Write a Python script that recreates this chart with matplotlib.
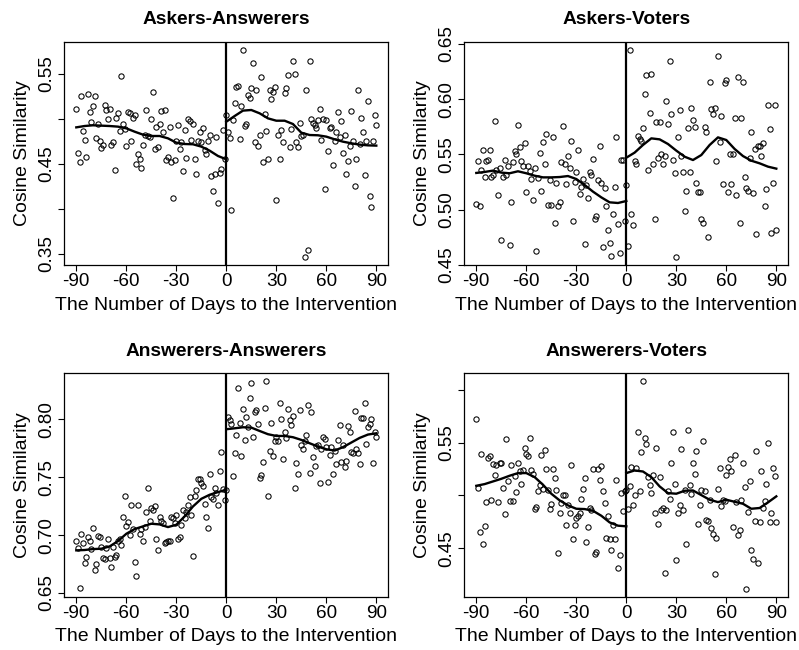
import matplotlib
matplotlib.use("Agg")
import matplotlib.pyplot as plt

plt.rcParams['font.family'] = ['Liberation Sans', 'DejaVu Sans']
plt.rcParams['axes.unicode_minus'] = False

days = list(range(-90, 91))

# Askers-Answerers
aa_vals = [
    0.511, 0.462, 0.452, 0.526, 0.487, 0.477, 0.458, 0.528, 0.508, 0.497,
    0.514, 0.526, 0.479, 0.494, 0.475, 0.468, 0.471, 0.515, 0.510, 0.500,
    0.511, 0.471, 0.474, 0.443, 0.501, 0.507, 0.487, 0.548, 0.494, 0.489,
    0.470, 0.508, 0.507, 0.476, 0.501, 0.504, 0.450, 0.461, 0.455, 0.446,
    0.471, 0.482, 0.510, 0.481, 0.480, 0.500, 0.530, 0.467, 0.491, 0.469,
    0.494, 0.509, 0.485, 0.510, 0.454, 0.458, 0.491, 0.452, 0.412, 0.454,
    0.475, 0.493, 0.467, 0.474, 0.442, 0.488, 0.457, 0.500, 0.498, 0.477,
    0.494, 0.455, 0.439, 0.476, 0.486, 0.474, 0.490, 0.465, 0.461, 0.475,
    0.482, 0.437, 0.420, 0.439, 0.480, 0.407, 0.440, 0.444, 0.488, 0.456,
    0.504,
    0.486, 0.479, 0.399, 0.499, 0.518, 0.535, 0.537, 0.478, 0.514, 0.577,
    0.492, 0.494, 0.527, 0.523, 0.534, 0.562, 0.474, 0.532, 0.470, 0.482,
    0.547, 0.452, 0.506, 0.487, 0.455, 0.532, 0.522, 0.530, 0.535, 0.410,
    0.482, 0.455, 0.488, 0.474, 0.529, 0.534, 0.549, 0.469, 0.489, 0.564,
    0.550, 0.474, 0.469, 0.496, 0.481, 0.482, 0.347, 0.532, 0.354, 0.564,
    0.500, 0.496, 0.493, 0.490, 0.499, 0.511, 0.477, 0.500, 0.422, 0.499,
    0.464, 0.490, 0.491, 0.449, 0.475, 0.485, 0.508, 0.480, 0.498, 0.462,
    0.482, 0.439, 0.453, 0.470, 0.509, 0.475, 0.426, 0.456, 0.532, 0.472,
    0.501, 0.486, 0.438, 0.475, 0.520, 0.414, 0.402, 0.476, 0.504, 0.493,
]

# Askers-Voters
av_vals = [
    0.505, 0.544, 0.503, 0.536, 0.554, 0.530, 0.544, 0.545, 0.554, 0.530,
    0.531, 0.580, 0.536, 0.513, 0.538, 0.473, 0.530, 0.545, 0.531, 0.540,
    0.468, 0.507, 0.543, 0.553, 0.550, 0.577, 0.557, 0.544, 0.540, 0.560,
    0.516, 0.540, 0.535, 0.528, 0.509, 0.538, 0.463, 0.529, 0.551, 0.517,
    0.561, 0.541, 0.569, 0.504, 0.527, 0.504, 0.566, 0.488, 0.524, 0.503,
    0.507, 0.543, 0.576, 0.541, 0.523, 0.549, 0.538, 0.562, 0.490, 0.525,
    0.534, 0.554, 0.514, 0.521, 0.528, 0.469, 0.522, 0.511, 0.534, 0.531,
    0.546, 0.492, 0.494, 0.527, 0.558, 0.524, 0.466, 0.520, 0.503, 0.482,
    0.470, 0.458, 0.496, 0.521, 0.566, 0.487, 0.461, 0.545, 0.545, 0.490,
    0.522,
    0.467, 0.645, 0.496, 0.486, 0.544, 0.541, 0.567, 0.564, 0.562, 0.574,
    0.605, 0.622, 0.536, 0.588, 0.623, 0.541, 0.492, 0.579, 0.547, 0.579,
    0.550, 0.541, 0.549, 0.598, 0.578, 0.635, 0.587, 0.545, 0.533, 0.457,
    0.566, 0.590, 0.549, 0.534, 0.499, 0.517, 0.574, 0.534, 0.592, 0.581,
    0.575, 0.524, 0.516, 0.516, 0.492, 0.488, 0.575, 0.570, 0.475, 0.616,
    0.591, 0.587, 0.592, 0.544, 0.639, 0.561, 0.585, 0.523, 0.615, 0.617,
    0.516, 0.550, 0.523, 0.550, 0.583, 0.513, 0.620, 0.488, 0.583, 0.616,
    0.530, 0.520, 0.517, 0.547, 0.570, 0.515, 0.555, 0.478, 0.558, 0.558,
    0.549, 0.560, 0.503, 0.519, 0.595, 0.573, 0.479, 0.524, 0.595, 0.482,
]

# Answerers-Answerers
nn_vals = [
    0.695, 0.689, 0.654, 0.701, 0.693, 0.676, 0.681, 0.698, 0.695, 0.688,
    0.706, 0.670, 0.675, 0.699, 0.698, 0.690, 0.680, 0.679, 0.689, 0.697,
    0.680, 0.672, 0.690, 0.681, 0.683, 0.695, 0.697, 0.691, 0.716, 0.734,
    0.708, 0.711, 0.700, 0.726, 0.705, 0.677, 0.665, 0.726, 0.701, 0.705,
    0.695, 0.707, 0.720, 0.741, 0.712, 0.723, 0.722, 0.725, 0.697, 0.687,
    0.716, 0.712, 0.710, 0.693, 0.694, 0.695, 0.695, 0.716, 0.715, 0.710,
    0.717, 0.697, 0.698, 0.709, 0.722, 0.715, 0.720, 0.726, 0.733, 0.717,
    0.682, 0.734, 0.739, 0.748, 0.748, 0.745, 0.742, 0.727, 0.716, 0.706,
    0.753, 0.733, 0.731, 0.741, 0.736, 0.726, 0.755, 0.772, 0.740, 0.730,
    0.739,
    0.802, 0.799, 0.796, 0.751, 0.771, 0.786, 0.827, 0.797, 0.768, 0.809,
    0.782, 0.802, 0.793, 0.818, 0.831, 0.785, 0.806, 0.808, 0.796, 0.749,
    0.752, 0.763, 0.810, 0.833, 0.734, 0.773, 0.797, 0.768, 0.781, 0.785,
    0.781, 0.814, 0.800, 0.766, 0.789, 0.784, 0.809, 0.799, 0.795, 0.803,
    0.741, 0.762, 0.753, 0.808, 0.778, 0.774, 0.781, 0.786, 0.812, 0.754,
    0.806, 0.767, 0.760, 0.777, 0.778, 0.745, 0.774, 0.785, 0.783, 0.776,
    0.746, 0.769, 0.776, 0.753, 0.773, 0.761, 0.782, 0.795, 0.763, 0.778,
    0.759, 0.764, 0.794, 0.789, 0.772, 0.771, 0.807, 0.774, 0.771, 0.761,
    0.801, 0.801, 0.814, 0.779, 0.793, 0.796, 0.800, 0.762, 0.789, 0.785,
]

# Answerers-Voters
nv_vals = [
    0.572, 0.507, 0.465, 0.539, 0.454, 0.471, 0.494, 0.535, 0.537, 0.496,
    0.530, 0.519, 0.529, 0.494, 0.531, 0.531, 0.507, 0.482, 0.553, 0.514,
    0.495, 0.529, 0.495, 0.518, 0.503, 0.531, 0.523, 0.511, 0.524, 0.545,
    0.539, 0.537, 0.554, 0.524, 0.520, 0.487, 0.489, 0.504, 0.510, 0.538,
    0.506, 0.543, 0.525, 0.505, 0.487, 0.492, 0.525, 0.516, 0.505, 0.446,
    0.483, 0.493, 0.500, 0.500, 0.472, 0.491, 0.483, 0.529, 0.459, 0.472,
    0.479, 0.481, 0.483, 0.497, 0.506, 0.516, 0.456, 0.470, 0.488, 0.486,
    0.525, 0.445, 0.447, 0.525, 0.515, 0.528, 0.504, 0.493, 0.460, 0.481,
    0.459, 0.448, 0.472, 0.459, 0.515, 0.431, 0.444, 0.502, 0.485, 0.504,
    0.505,
    0.487, 0.509, 0.527, 0.491, 0.500, 0.526, 0.560, 0.504, 0.541, 0.608,
    0.554, 0.549, 0.517, 0.510, 0.502, 0.519, 0.483, 0.545, 0.473, 0.517,
    0.486, 0.488, 0.427, 0.486, 0.504, 0.497, 0.531, 0.560, 0.511, 0.439,
    0.483, 0.491, 0.544, 0.486, 0.505, 0.454, 0.562, 0.510, 0.501, 0.531,
    0.520, 0.542, 0.473, 0.491, 0.505, 0.551, 0.504, 0.477, 0.476, 0.496,
    0.469, 0.464, 0.426, 0.460, 0.506, 0.526, 0.490, 0.496, 0.495, 0.519,
    0.527, 0.534, 0.523, 0.470, 0.538, 0.494, 0.463, 0.467, 0.496, 0.531,
    0.508, 0.412, 0.484, 0.514, 0.448, 0.440, 0.476, 0.542, 0.436, 0.475,
    0.523, 0.488, 0.495, 0.511, 0.550, 0.475, 0.483, 0.526, 0.518, 0.475,
]

# Smoothed (loess) curves, read every 5 days
sm_pre_days = list(range(-90, 1, 5))
sm_post_days = list(range(0, 91, 5))

aa_sm_pre = [0.4907, 0.4922, 0.4930, 0.4926, 0.4922, 0.4915, 0.4896, 0.4859, 0.4826, 0.4811,
             0.4811, 0.4785, 0.4737, 0.4722, 0.4719, 0.4693, 0.4648, 0.4589, 0.4552]
aa_sm_post = [0.4970, 0.5033, 0.5093, 0.5100, 0.5063, 0.5007, 0.4981, 0.4981, 0.4944, 0.4848,
              0.4822, 0.4819, 0.4804, 0.4774, 0.4748, 0.4730, 0.4715, 0.4707, 0.4704]
av_sm_pre = [0.5333, 0.5342, 0.5354, 0.5336, 0.5330, 0.5348, 0.5330, 0.5308, 0.5293, 0.5293,
             0.5296, 0.5305, 0.5278, 0.5224, 0.5164, 0.5112, 0.5067, 0.5061, 0.5079]
av_sm_post = [0.5471, 0.5517, 0.5586, 0.5646, 0.5637, 0.5595, 0.5535, 0.5480, 0.5450, 0.5495,
              0.5586, 0.5655, 0.5631, 0.5550, 0.5486, 0.5444, 0.5420, 0.5390, 0.5372]
nn_sm_pre = [0.6868, 0.6871, 0.6879, 0.6882, 0.6902, 0.6948, 0.7011, 0.7052, 0.7075, 0.7098,
             0.7092, 0.7069, 0.7089, 0.7161, 0.7247, 0.7313, 0.7348, 0.7371, 0.7391]
nn_sm_post = [0.7914, 0.7922, 0.7931, 0.7928, 0.7899, 0.7871, 0.7856, 0.7856, 0.7845, 0.7822,
              0.7793, 0.7764, 0.7741, 0.7730, 0.7759, 0.7799, 0.7839, 0.7868, 0.7879]
nv_sm_pre = [0.5091, 0.5107, 0.5132, 0.5157, 0.5186, 0.5211, 0.5211, 0.5173, 0.5101, 0.5016,
             0.4953, 0.4906, 0.4874, 0.4871, 0.4855, 0.4808, 0.4745, 0.4714, 0.4708]
nv_sm_post = [0.5211, 0.5236, 0.5226, 0.5173, 0.5085, 0.5022, 0.5016, 0.5044, 0.5047, 0.5003,
              0.4959, 0.4937, 0.4959, 0.4940, 0.4921, 0.4874, 0.4881, 0.4934, 0.4991]

titles = ["Askers-Answerers", "Askers-Voters", "Answerers-Answerers", "Answerers-Voters"]
xticks = [-90, -60, -30, 0, 30, 60, 90]
yticks_list = [
    ([0.35, 0.40, 0.45, 0.50, 0.55], ["0.35", "", "0.45", "", "0.55"]),
    ([0.45, 0.50, 0.55, 0.60, 0.65], ["0.45", "0.50", "0.55", "0.60", "0.65"]),
    ([0.65, 0.70, 0.75, 0.80], ["0.65", "0.70", "0.75", "0.80"]),
    ([0.45, 0.50, 0.55, 0.60], ["0.45", "", "0.55", ""]),
]
ylims = [(0.3374, 0.5859), (0.4497, 0.6521), (0.6466, 0.8397), (0.4041, 0.6154)]

W, H = 799, 650
fig = plt.figure(figsize=(W / 100, H / 100), dpi=100)
rects = [
    (64.3, 41.7), (464.3, 41.7), (64.3, 373.3), (464.3, 373.3)
]
pw, ph = 324.0, 223.6
panels = [
    (aa_vals, aa_sm_pre, aa_sm_post),
    (av_vals, av_sm_pre, av_sm_post),
    (nn_vals, nn_sm_pre, nn_sm_post),
    (nv_vals, nv_sm_pre, nv_sm_post),
]

for i, ((vals, sp, spo), (lx, ty)) in enumerate(zip(panels, rects)):
    ax = fig.add_axes([lx / W, 1 - (ty + ph) / H, pw / W, ph / H])
    ax.plot(days, vals, linestyle='none', marker='o', ms=3.8, mfc='none',
            mec='black', mew=0.75)
    ax.plot(sm_pre_days, sp, color='black', lw=1.7)
    ax.plot(sm_post_days, spo, color='black', lw=1.7)
    ax.axvline(0, color='black', lw=1.6)
    ax.set_xlim(-97.2, 97.2)
    ax.set_ylim(*ylims[i])
    ax.set_xticks(xticks)
    ax.set_xticklabels([str(t) for t in xticks])
    yt, yl = yticks_list[i]
    ax.set_yticks(yt)
    ax.set_yticklabels(yl)
    ax.tick_params(axis='both', direction='out', length=4.3, width=0.8,
                   labelsize=13.6)
    ax.tick_params(axis='x', pad=1.6)
    ax.tick_params(axis='y', labelrotation=90, pad=2.5)
    for lab in ax.get_yticklabels():
        lab.set_va('center')
    for s in ax.spines.values():
        s.set_linewidth(0.9)
    ax.set_title(titles[i], fontsize=13.8, fontweight='bold', pad=12.5)
    ax.set_xlabel("The Number of Days to the Intervention", fontsize=14.0)
    ax.set_ylabel("Cosine Similarity", fontsize=14.0)
    ax.xaxis.label.set_va('baseline')
    ax.yaxis.label.set_va('baseline')
    ax.xaxis.set_label_coords(0.5, -0.199)
    ax.yaxis.set_label_coords(-0.115, 0.5)

fig.savefig("out.png", dpi=100)
